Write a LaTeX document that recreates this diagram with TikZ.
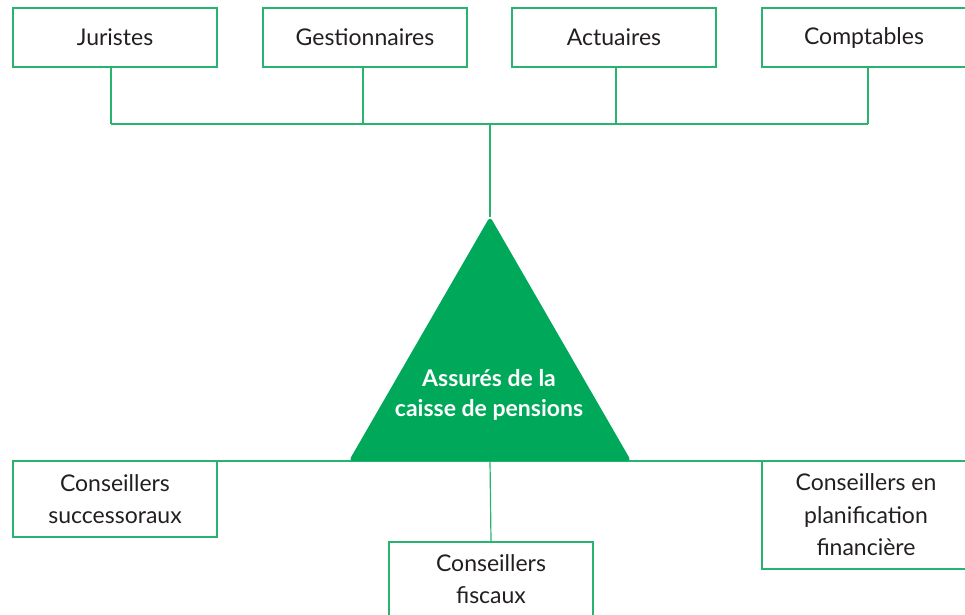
\documentclass[tikz,border=0pt]{standalone}
\usepackage{fontspec}
\setmainfont{Lato}
\usetikzlibrary{shapes.geometric}
\definecolor{pensiongreen}{RGB}{0,168,89}
\definecolor{linkgreen}{RGB}{40,180,110}
\definecolor{labelgray}{RGB}{35,31,32}
\begin{document}
\begin{tikzpicture}
[x=1pt,y=-1pt,
  boxdecorate/.style={draw=linkgreen,line width=1.2pt,minimum width=204pt,inner sep=0pt,align=center,text=labelgray,font=\fontsize{23}{32.5}\selectfont},
  greenline/.style={-,draw=linkgreen,line width=1.2pt}]
\useasboundingbox (0,0) rectangle (965,614);
% top boxes
\node (1) at (115,37.5) [boxdecorate,minimum height=59pt] {Juristes};
\node (2) at (365,37.5) [boxdecorate,minimum height=59pt] {Gestionnaires};
\node (3) at (614,37.5) [boxdecorate,minimum height=59pt] {Actuaires};
\node (4) at (864,37.5) [boxdecorate,minimum height=59pt] {Comptables};
% bottom boxes
\node (7) at (115,499) [boxdecorate,minimum height=76pt] {Conseillers\\successoraux};
\node (8) at (491,579) [boxdecorate,minimum height=74pt] {Conseillers\\fiscaux};
\node (9) at (866,515) [boxdecorate,minimum width=208pt,minimum height=108pt] {Conseillers en\\planification\\financière};
% bus points
\coordinate (bus1) at (111,124);
\coordinate (bus2) at (363,124);
\coordinate (bus3) at (616,124);
\coordinate (bus4) at (868,124);
\coordinate (hub) at (490,124);
\coordinate (apex) at (490,217);
\coordinate (base1) at (110,461);
\coordinate (base2) at (965,461);
\coordinate (foot) at (490,461);
% edges or lines
\path
% top boxes down to the bus
(bus1) edge[greenline] (bus1 |- 1.south)
(bus2) edge[greenline] (bus2 |- 2.south)
(bus3) edge[greenline] (bus3 |- 3.south)
(bus4) edge[greenline] (bus4 |- 4.south)
(bus1) edge[greenline] (bus4)
% bus down to the triangle
(hub) edge[greenline] (apex)
% base line and fiscal advisers
(base1) edge[greenline] (base2)
(foot) edge[greenline] (8.north);
% triangle
\node (5) at (490,379.5) [regular polygon,regular polygon sides=3,minimum size=326pt,inner sep=0pt,outer sep=0pt,fill=pensiongreen,rounded corners=4pt] {};
\node (6) at (489,395) [align=center,text=white,font=\fontsize{23}{30}\selectfont\bfseries] {Assurés de la\\caisse de pensions};
\end{tikzpicture}
\end{document}
